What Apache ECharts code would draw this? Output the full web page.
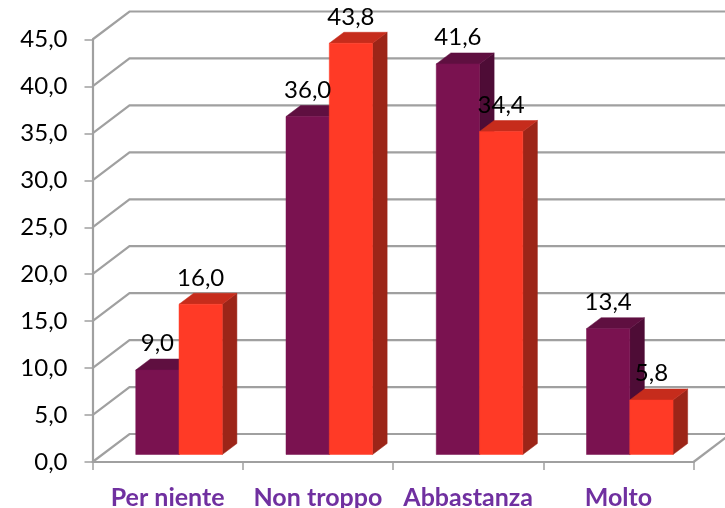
<!DOCTYPE html>
<html><head><meta charset="utf-8">
<style>html,body{margin:0;padding:0;background:#fff}#c{width:725px;height:508px}</style>
<script src="https://cdn.jsdelivr.net/npm/echarts@6/dist/echarts.min.js"></script>
</head><body><div id="c"></div>
<script>
var categories = ['Per niente', 'Non troppo', 'Abbastanza', 'Molto'];
var purpleValues = [9.0, 36.0, 41.6, 13.4];
var redValues = [16.0, 43.8, 34.4, 5.8];
var gridLevels = [0, 5, 10, 15, 20, 25, 30, 35, 40, 45];

var FONT = 'Lato, Carlito, sans-serif';
var GRAY = '#a0a0a0';
var WALL = [37, -28];
var BAR_SHIFT = [11.4, -7.5];
var BAR_DEPTH = [14.6, -11];
var BAR_FRAC = 0.288;
var fmt = function (v) { return Number(v).toFixed(1).replace('.', ','); };

var purple = { front: '#7a1250', top: '#5f0f40', side: '#4e0c36' };
var red = { front: '#ff3a26', top: '#c62c1c', side: '#9c2518' };

function poly(points, color) {
  return { type: 'polygon', shape: { points: points }, style: { fill: color, stroke: color, lineWidth: 0.5 } };
}
function barSeries(values, colors, side, z) {
  return {
    type: 'custom', z: z,
    data: values.map(function (v, i) { return [i, v]; }),
    encode: { x: 0, y: 1 },
    renderItem: function (params, api) {
      var i = api.value(0), v = api.value(1);
      var band = api.size([1, 0])[0], w = band * BAR_FRAC;
      var t = api.coord([i, v]), b = api.coord([i, 0]);
      var x0 = t[0] + BAR_SHIFT[0] + (side < 0 ? -w : 0), x1 = x0 + w;
      var yt = t[1] + BAR_SHIFT[1], yb = b[1] + BAR_SHIFT[1];
      var dx = BAR_DEPTH[0], dy = BAR_DEPTH[1];
      return { type: 'group', children: [
        poly([[x1, yt], [x1 + dx, yt + dy], [x1 + dx, yb + dy], [x1, yb]], colors.side),
        poly([[x0, yt], [x0 + dx, yt + dy], [x1 + dx, yt + dy], [x1, yt]], colors.top),
        poly([[x0, yt], [x1, yt], [x1, yb], [x0, yb]], colors.front)
      ] };
    }
  };
}
function labelSeries(values, side) {
  return {
    type: 'custom', z: 20,
    data: values.map(function (v, i) { return [i, v]; }),
    encode: { x: 0, y: 1 },
    renderItem: function (params, api) {
      var i = api.value(0), v = api.value(1);
      var band = api.size([1, 0])[0], w = band * BAR_FRAC;
      var t = api.coord([i, v]);
      return { type: 'text', z2: 50, style: {
        x: t[0] + BAR_SHIFT[0] + side * w / 2, y: t[1] + BAR_SHIFT[1] - 26.5,
        text: fmt(v), fill: '#000', font: '24px ' + FONT, align: 'center', verticalAlign: 'middle'
      } };
    }
  };
}
var wallSeries = {
  type: 'custom', z: 1,
  data: gridLevels.map(function (v) { return [0, v]; }),
  encode: { x: 0, y: 1 },
  renderItem: function (params, api) {
    var v = api.value(1);
    var band = api.size([1, 0])[0];
    var l = api.coord([0, v]), r = api.coord([categories.length - 1, v]);
    var x0 = l[0] - band / 2, x1 = r[0] + band / 2, y = l[1];
    var line = { stroke: GRAY, lineWidth: 2.2, fill: null };
    var kids = [{ type: 'polyline', shape: { points: [[x0, y], [x0 + WALL[0], y + WALL[1]], [x1 + WALL[0], y + WALL[1]]] }, style: line }];
    if (v === 0) {
      kids.push({ type: 'polyline', shape: { points: [[x1, y], [x1 + WALL[0], y + WALL[1]]] }, style: line });
    }
    return { type: 'group', children: kids };
  }
};

var chart = echarts.init(document.getElementById('c'), null, { renderer: 'canvas' });
chart.setOption({
  animation: false,
  backgroundColor: '#fff',
  grid: { left: 92.5, right: 31.5, top: 39.5, bottom: 46, containLabel: false, outerBoundsMode: 'none' },
  xAxis: {
    type: 'category', data: categories,
    axisLine: { show: true, onZero: false, lineStyle: { color: GRAY, width: 2.2 } },
    axisTick: { show: true, alignWithLabel: false, length: 8, lineStyle: { color: GRAY, width: 1.5 } },
    axisLabel: { color: '#7030a0', fontFamily: FONT, fontWeight: 'bold', fontSize: 25, margin: 23, interval: 0 },
    splitLine: { show: false }
  },
  yAxis: {
    type: 'value', min: 0, max: 45, interval: 5,
    axisLine: { show: true, lineStyle: { color: GRAY, width: 2.2 } },
    axisTick: { show: true, length: 8, lineStyle: { color: GRAY, width: 1.5 } },
    axisLabel: { color: '#000', fontFamily: FONT, fontSize: 24, margin: 25, padding: [3, 0, 0, 0], formatter: fmt },
    splitLine: { show: false }
  },
  series: [
    wallSeries,
    barSeries(purpleValues, purple, -1, 5),
    barSeries(redValues, red, 1, 6),
    labelSeries(purpleValues, -1),
    labelSeries(redValues, 1)
  ]
});
</script></body></html>
